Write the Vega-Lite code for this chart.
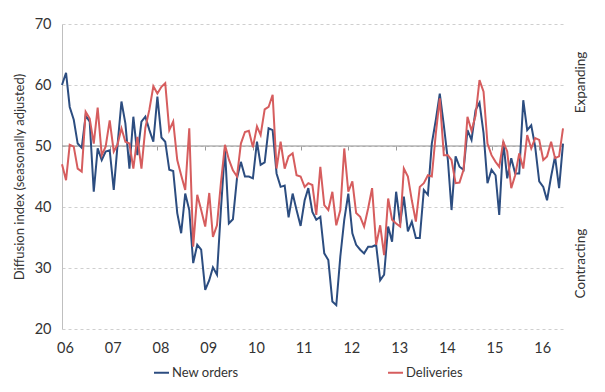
{
  "$schema": "https://vega.github.io/schema/vega-lite/v6.json",
  "width": 501,
  "height": 305,
  "autosize": {"type": "none"},
  "padding": {"left": 62, "top": 24, "right": 42, "bottom": 63},
  "background": "white",
  "config": {
    "view": {"stroke": null},
    "font": "Lato",
    "axis": {"labelFont": "Lato", "titleFont": "Lato", "labelColor": "#333333", "titleColor": "#333333"},
    "legend": {"labelFont": "Lato", "labelColor": "#333333"}
  },
  "layer": [
    {
      "data": {"values": [{"start": "2006-01-01", "end": "2016-07-01", "level": 50}]},
      "mark": {"type": "rule", "color": "#8c8c8c", "strokeWidth": 1},
      "encoding": {
        "x": {
          "field": "start", "type": "temporal",
          "scale": {"type": "utc", "domain": [1136073600000, 1467331200000]},
          "axis": {
            "orient": "bottom", "offset": -183, "labels": false, "domain": false, "grid": false,
            "ticks": true, "tickSize": 4, "tickColor": "#9a9a9a", "title": null,
            "values": [1136073600000, 1167609600000, 1199145600000, 1230768000000, 1262304000000, 1293840000000, 1325376000000, 1356998400000, 1388534400000, 1420070400000, 1451606400000]
          }
        },
        "x2": {"field": "end"},
        "y": {
          "field": "level", "type": "quantitative",
          "scale": {"domain": [20, 70], "nice": false, "zero": false},
          "axis": {
            "orient": "right", "values": [60.5, 30.8], "labelExpr": "datum.value > 50 ? 'Expanding' : 'Contracting'",
            "labelAngle": 270, "labelAlign": "center", "labelBaseline": "top", "labelPadding": 10,
            "labelFontSize": 13.5, "domain": false, "ticks": false, "tickSize": 0, "grid": false, "title": null
          }
        }
      }
    },
    {
      "data": {"values": [
        {"date": "2006-01-01", "New orders": 60, "Deliveries": 47},
        {"date": "2006-02-01", "New orders": 62, "Deliveries": 44.4},
        {"date": "2006-03-01", "New orders": 56.4, "Deliveries": 50.2},
        {"date": "2006-04-01", "New orders": 54.3, "Deliveries": 49.9},
        {"date": "2006-05-01", "New orders": 50.4, "Deliveries": 46.3},
        {"date": "2006-06-01", "New orders": 49.7, "Deliveries": 45.8},
        {"date": "2006-07-01", "New orders": 55, "Deliveries": 55.6},
        {"date": "2006-08-01", "New orders": 54, "Deliveries": 54.5},
        {"date": "2006-09-01", "New orders": 42.5, "Deliveries": 50.4},
        {"date": "2006-10-01", "New orders": 49.6, "Deliveries": 56.3},
        {"date": "2006-11-01", "New orders": 47.7, "Deliveries": 48.5},
        {"date": "2006-12-01", "New orders": 49.1, "Deliveries": 49.9},
        {"date": "2007-01-01", "New orders": 49.3, "Deliveries": 54.2},
        {"date": "2007-02-01", "New orders": 42.8, "Deliveries": 49.1},
        {"date": "2007-03-01", "New orders": 49.9, "Deliveries": 50.2},
        {"date": "2007-04-01", "New orders": 57.3, "Deliveries": 52.9},
        {"date": "2007-05-01", "New orders": 53.7, "Deliveries": 50.7},
        {"date": "2007-06-01", "New orders": 46.3, "Deliveries": 50.4},
        {"date": "2007-07-01", "New orders": 54.8, "Deliveries": 46.3},
        {"date": "2007-08-01", "New orders": 48.5, "Deliveries": 51.5},
        {"date": "2007-09-01", "New orders": 54, "Deliveries": 46.3},
        {"date": "2007-10-01", "New orders": 54.8, "Deliveries": 53},
        {"date": "2007-11-01", "New orders": 52.6, "Deliveries": 56},
        {"date": "2007-12-01", "New orders": 50.7, "Deliveries": 59.8},
        {"date": "2008-01-01", "New orders": 58.1, "Deliveries": 58.6},
        {"date": "2008-02-01", "New orders": 51.4, "Deliveries": 59.7},
        {"date": "2008-03-01", "New orders": 50.7, "Deliveries": 60.3},
        {"date": "2008-04-01", "New orders": 46.1, "Deliveries": 52.6},
        {"date": "2008-05-01", "New orders": 45.9, "Deliveries": 54},
        {"date": "2008-06-01", "New orders": 39, "Deliveries": 47.7},
        {"date": "2008-07-01", "New orders": 35.7, "Deliveries": 45.2},
        {"date": "2008-08-01", "New orders": 42.2, "Deliveries": 42.8},
        {"date": "2008-09-01", "New orders": 39.5, "Deliveries": 52.9},
        {"date": "2008-10-01", "New orders": 30.8, "Deliveries": 33.5},
        {"date": "2008-11-01", "New orders": 33.8, "Deliveries": 42},
        {"date": "2008-12-01", "New orders": 33, "Deliveries": 39.5},
        {"date": "2009-01-01", "New orders": 26.4, "Deliveries": 36.8},
        {"date": "2009-02-01", "New orders": 28, "Deliveries": 42.3},
        {"date": "2009-03-01", "New orders": 30.1, "Deliveries": 35.1},
        {"date": "2009-04-01", "New orders": 28.9, "Deliveries": 37},
        {"date": "2009-05-01", "New orders": 39.5, "Deliveries": 43.9},
        {"date": "2009-06-01", "New orders": 49.5, "Deliveries": 50.2},
        {"date": "2009-07-01", "New orders": 37.3, "Deliveries": 47.8},
        {"date": "2009-08-01", "New orders": 38, "Deliveries": 46},
        {"date": "2009-09-01", "New orders": 44.7, "Deliveries": 45},
        {"date": "2009-10-01", "New orders": 47.4, "Deliveries": 50.4},
        {"date": "2009-11-01", "New orders": 45, "Deliveries": 52.3},
        {"date": "2009-12-01", "New orders": 45, "Deliveries": 52.5},
        {"date": "2010-01-01", "New orders": 44.7, "Deliveries": 49.8},
        {"date": "2010-02-01", "New orders": 50.7, "Deliveries": 53.2},
        {"date": "2010-03-01", "New orders": 46.9, "Deliveries": 51.8},
        {"date": "2010-04-01", "New orders": 47.3, "Deliveries": 56},
        {"date": "2010-05-01", "New orders": 52.9, "Deliveries": 56.4},
        {"date": "2010-06-01", "New orders": 52.6, "Deliveries": 58.4},
        {"date": "2010-07-01", "New orders": 45.5, "Deliveries": 46.3},
        {"date": "2010-08-01", "New orders": 43.3, "Deliveries": 50.7},
        {"date": "2010-09-01", "New orders": 43.5, "Deliveries": 46.3},
        {"date": "2010-10-01", "New orders": 38.3, "Deliveries": 48.3},
        {"date": "2010-11-01", "New orders": 42.2, "Deliveries": 48.8},
        {"date": "2010-12-01", "New orders": 39.5, "Deliveries": 45.2},
        {"date": "2011-01-01", "New orders": 36.9, "Deliveries": 45},
        {"date": "2011-02-01", "New orders": 41.1, "Deliveries": 43.3},
        {"date": "2011-03-01", "New orders": 43.1, "Deliveries": 43.9},
        {"date": "2011-04-01", "New orders": 39.2, "Deliveries": 43.6},
        {"date": "2011-05-01", "New orders": 37.9, "Deliveries": 38.7},
        {"date": "2011-06-01", "New orders": 38.4, "Deliveries": 46.6},
        {"date": "2011-07-01", "New orders": 32.4, "Deliveries": 40.3},
        {"date": "2011-08-01", "New orders": 31.3, "Deliveries": 39.5},
        {"date": "2011-09-01", "New orders": 24.5, "Deliveries": 42.5},
        {"date": "2011-10-01", "New orders": 23.9, "Deliveries": 37},
        {"date": "2011-11-01", "New orders": 31.9, "Deliveries": 39.5},
        {"date": "2011-12-01", "New orders": 37.9, "Deliveries": 49.6},
        {"date": "2012-01-01", "New orders": 42.2, "Deliveries": 42.5},
        {"date": "2012-02-01", "New orders": 35.7, "Deliveries": 44.2},
        {"date": "2012-03-01", "New orders": 33.8, "Deliveries": 39},
        {"date": "2012-04-01", "New orders": 33, "Deliveries": 38.4},
        {"date": "2012-05-01", "New orders": 32.4, "Deliveries": 36.8},
        {"date": "2012-06-01", "New orders": 33.5, "Deliveries": 39.8},
        {"date": "2012-07-01", "New orders": 33.5, "Deliveries": 43.1},
        {"date": "2012-08-01", "New orders": 33.8, "Deliveries": 33.8},
        {"date": "2012-09-01", "New orders": 28, "Deliveries": 37},
        {"date": "2012-10-01", "New orders": 28.9, "Deliveries": 32.1},
        {"date": "2012-11-01", "New orders": 36.8, "Deliveries": 41.4},
        {"date": "2012-12-01", "New orders": 34.3, "Deliveries": 37.9},
        {"date": "2013-01-01", "New orders": 42.5, "Deliveries": 37.3},
        {"date": "2013-02-01", "New orders": 37.3, "Deliveries": 36.8},
        {"date": "2013-03-01", "New orders": 41.7, "Deliveries": 46.3},
        {"date": "2013-04-01", "New orders": 36, "Deliveries": 45},
        {"date": "2013-05-01", "New orders": 37.6, "Deliveries": 41.1},
        {"date": "2013-06-01", "New orders": 34.9, "Deliveries": 37.6},
        {"date": "2013-07-01", "New orders": 34.9, "Deliveries": 43.3},
        {"date": "2013-08-01", "New orders": 42.8, "Deliveries": 43.9},
        {"date": "2013-09-01", "New orders": 42, "Deliveries": 45.2},
        {"date": "2013-10-01", "New orders": 50.4, "Deliveries": 45},
        {"date": "2013-11-01", "New orders": 54.3, "Deliveries": 52.1},
        {"date": "2013-12-01", "New orders": 58.6, "Deliveries": 57.8},
        {"date": "2014-01-01", "New orders": 53.4, "Deliveries": 48.5},
        {"date": "2014-02-01", "New orders": 47.7, "Deliveries": 48.5},
        {"date": "2014-03-01", "New orders": 39.5, "Deliveries": 47.7},
        {"date": "2014-04-01", "New orders": 48.3, "Deliveries": 43.9},
        {"date": "2014-05-01", "New orders": 46.6, "Deliveries": 44},
        {"date": "2014-06-01", "New orders": 46.1, "Deliveries": 46.1},
        {"date": "2014-07-01", "New orders": 52.6, "Deliveries": 54.8},
        {"date": "2014-08-01", "New orders": 51, "Deliveries": 52.5},
        {"date": "2014-09-01", "New orders": 55.9, "Deliveries": 55},
        {"date": "2014-10-01", "New orders": 57.1, "Deliveries": 60.8},
        {"date": "2014-11-01", "New orders": 52.1, "Deliveries": 58.9},
        {"date": "2014-12-01", "New orders": 43.9, "Deliveries": 50.4},
        {"date": "2015-01-01", "New orders": 46.1, "Deliveries": 48.5},
        {"date": "2015-02-01", "New orders": 45.2, "Deliveries": 47.4},
        {"date": "2015-03-01", "New orders": 38.7, "Deliveries": 46.6},
        {"date": "2015-04-01", "New orders": 50.7, "Deliveries": 50.7},
        {"date": "2015-05-01", "New orders": 44.7, "Deliveries": 49.1},
        {"date": "2015-06-01", "New orders": 48, "Deliveries": 43.1},
        {"date": "2015-07-01", "New orders": 45.5, "Deliveries": 45.2},
        {"date": "2015-08-01", "New orders": 45.5, "Deliveries": 48.8},
        {"date": "2015-09-01", "New orders": 57.5, "Deliveries": 46.3},
        {"date": "2015-10-01", "New orders": 52.6, "Deliveries": 51.8},
        {"date": "2015-11-01", "New orders": 53.4, "Deliveries": 49.6},
        {"date": "2015-12-01", "New orders": 49.9, "Deliveries": 51.3},
        {"date": "2016-01-01", "New orders": 44.2, "Deliveries": 51},
        {"date": "2016-02-01", "New orders": 43.3, "Deliveries": 47.7},
        {"date": "2016-03-01", "New orders": 41.1, "Deliveries": 48.3},
        {"date": "2016-04-01", "New orders": 45, "Deliveries": 50.7},
        {"date": "2016-05-01", "New orders": 48.3, "Deliveries": 48},
        {"date": "2016-06-01", "New orders": 43.1, "Deliveries": 48.3},
        {"date": "2016-07-01", "New orders": 50.4, "Deliveries": 52.9}
      ]},
      "transform": [{"fold": ["New orders", "Deliveries"], "as": ["series", "value"]}],
      "mark": {"type": "line", "strokeWidth": 2},
      "encoding": {
        "x": {
          "field": "date", "type": "temporal",
          "axis": {
            "orient": "bottom", "labelExpr": "utcFormat(datum.value, '%y')", "domain": false, "ticks": false, "tickSize": 0,
            "grid": false, "labelPadding": 12, "labelFontSize": 14.5, "labelOverlap": false, "title": null,
            "labelFlush": false, "labelAlign": "center", "labelOffset": 3,
            "values": [1136073600000, 1167609600000, 1199145600000, 1230768000000, 1262304000000, 1293840000000, 1325376000000, 1356998400000, 1388534400000, 1420070400000, 1451606400000]
          }
        },
        "y": {
          "field": "value", "type": "quantitative",
          "axis": {
            "orient": "left", "values": [20, 30, 40, 50, 60, 70], "grid": true, "gridDash": [3, 3], "gridColor": "#cfcfcf",
            "domain": true, "domainColor": "#bfbfbf", "ticks": false, "tickSize": 0, "labelPadding": 11,
            "labelFontSize": 14.5, "title": "Diffusion index (seasonally adjusted)", "titleFontSize": 13,
            "titleFontWeight": "normal", "titlePadding": 8
          }
        },
        "color": {
          "field": "series", "type": "nominal",
          "scale": {"domain": ["New orders", "Deliveries"], "range": ["#2c4d80", "#d65d5e"]},
          "legend": {
            "orient": "none", "legendX": 91, "legendY": 340, "direction": "horizontal", "title": null,
            "symbolType": "stroke", "symbolSize": 225, "symbolStrokeWidth": 2, "labelFontSize": 13,
            "labelOffset": 2, "columnPadding": 145, "padding": 0
          }
        }
      }
    }
  ],
  "resolve": {"axis": {"x": "independent", "y": "independent"}}
}
